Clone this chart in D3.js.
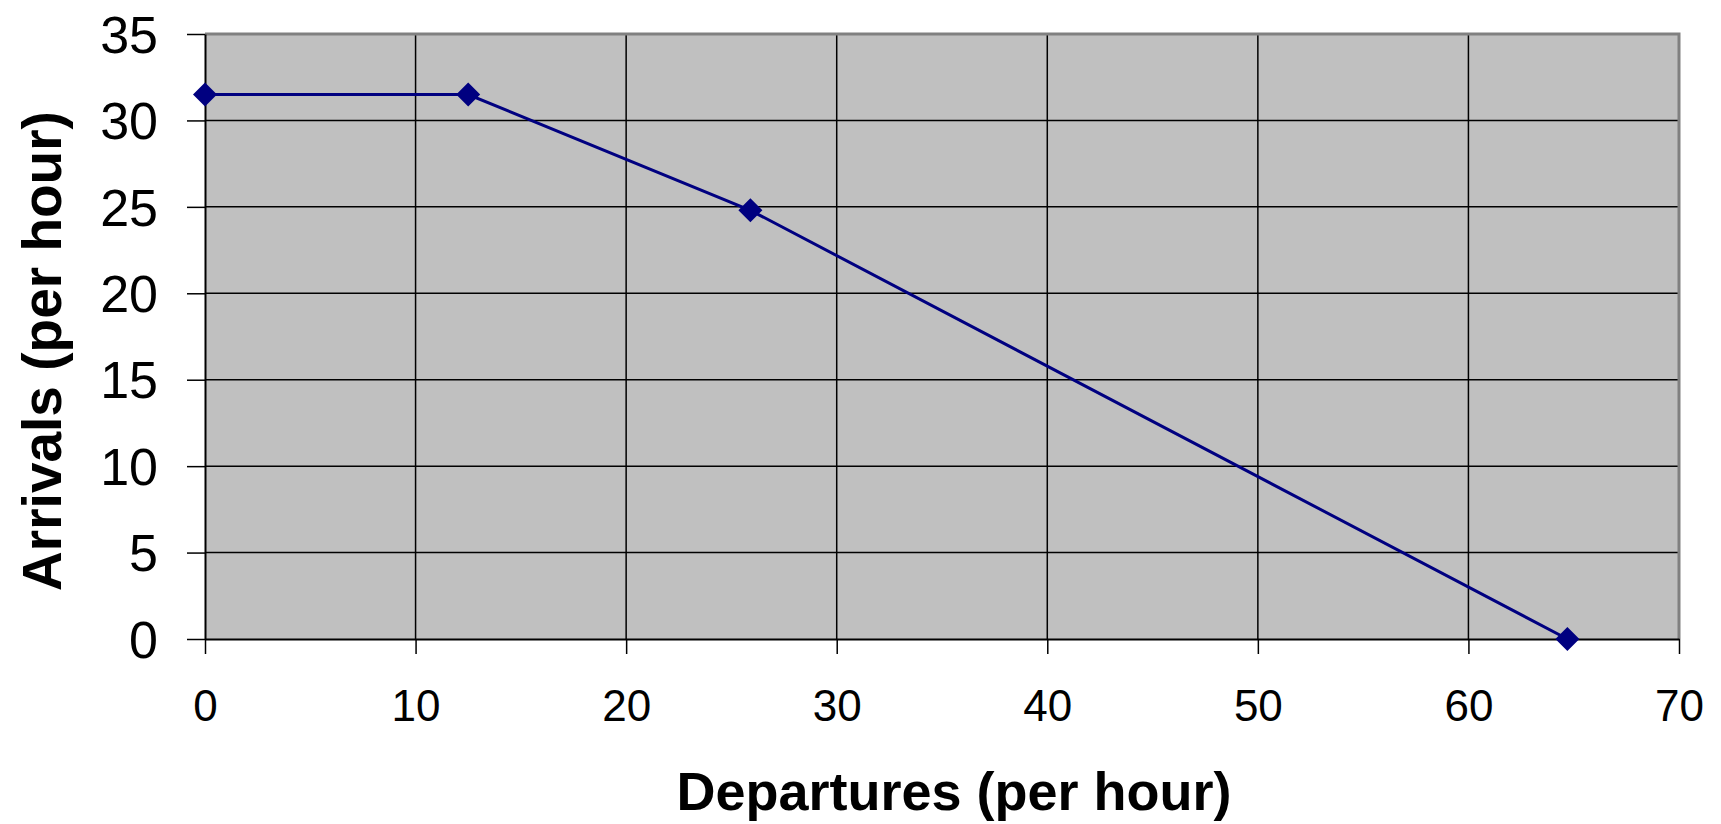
<!DOCTYPE html>
<html><head><meta charset="utf-8">
<script src="https://cdn.jsdelivr.net/npm/d3@7"></script>
<style>body{margin:0;background:#fff;}svg{display:block;}</style>
</head><body>
<script>
const departures = [0, 12.5, 25.9, 64.7];
const arrivals = [31.5, 31.5, 24.8, 0];
const xTicks = [0, 10, 20, 30, 40, 50, 60, 70];
const yTicks = [0, 5, 10, 15, 20, 25, 30, 35];
const xTitle = "Departures (per hour)";
const yTitle = "Arrivals (per hour)";

const W = 1721, H = 824;
const m = {left: 205, right: 1679, top: 34, bottom: 639};
const svg = d3.select("body").append("svg").attr("width", W).attr("height", H);
const x = d3.scaleLinear().domain([0, 70]).range([m.left, m.right]);
const y = d3.scaleLinear().domain([0, 35]).range([m.bottom, m.top]);

svg.append("rect").attr("x", m.left).attr("y", m.top)
  .attr("width", m.right - m.left).attr("height", m.bottom - m.top).attr("fill", "#c0c0c0");

// gridlines
svg.append("g").selectAll("line").data(yTicks.filter(d => d > 0 && d < 35)).join("line")
  .attr("x1", m.left).attr("x2", m.right).attr("y1", d => y(d)).attr("y2", d => y(d))
  .attr("stroke", "#000").attr("stroke-width", 1.5);
svg.append("g").selectAll("line").data(xTicks.filter(d => d > 0 && d < 70)).join("line")
  .attr("y1", m.top).attr("y2", m.bottom).attr("x1", d => x(d)).attr("x2", d => x(d))
  .attr("stroke", "#000").attr("stroke-width", 1.5);

// gray border top/right
svg.append("path").attr("d", `M${m.left},${m.top}H${m.right}V${m.bottom}`)
  .attr("fill", "none").attr("stroke", "#808080").attr("stroke-width", 3);

// axes
const xAxis = svg.append("g").attr("transform", `translate(0,${m.bottom})`)
  .call(d3.axisBottom(x).tickValues(xTicks).tickSize(15).tickPadding(36).tickSizeOuter(0));
const yAxis = svg.append("g").attr("transform", `translate(${m.left},0)`)
  .call(d3.axisLeft(y).tickValues(yTicks).tickSize(18).tickPadding(29).tickSizeOuter(0));
[xAxis, yAxis].forEach(a => {
  a.select(".domain").attr("stroke", "#000").attr("stroke-width", 2);
  a.selectAll(".tick line").attr("stroke", "#000").attr("stroke-width", 1.5);
  a.selectAll("text").attr("fill", "#000").attr("font-family", "Liberation Sans, Arial, sans-serif");
});
xAxis.selectAll("text").attr("font-size", 44);
yAxis.selectAll("text").attr("font-size", 52).attr("dy", "0.35em");

// line and markers
const pts = departures.map((d, i) => [d, arrivals[i]]);
svg.append("path").datum(pts)
  .attr("d", d3.line().x(d => x(d[0])).y(d => y(d[1])))
  .attr("fill", "none").attr("stroke", "#000080").attr("stroke-width", 3);
svg.append("g").selectAll("path").data(pts).join("path")
  .attr("transform", d => `translate(${x(d[0])},${y(d[1])})`)
  .attr("d", "M0,-12L12,0L0,12L-12,0Z").attr("fill", "#000080");

// titles
svg.append("text").attr("x", 954).attr("y", 810).attr("text-anchor", "middle")
  .attr("font-family", "Liberation Sans, Arial, sans-serif").attr("font-weight", "bold")
  .attr("font-size", 54).text(xTitle);
svg.append("text").attr("transform", "translate(61,351) rotate(-90)").attr("text-anchor", "middle")
  .attr("font-family", "Liberation Sans, Arial, sans-serif").attr("font-weight", "bold")
  .attr("font-size", 55).text(yTitle);
</script>
</body></html>
